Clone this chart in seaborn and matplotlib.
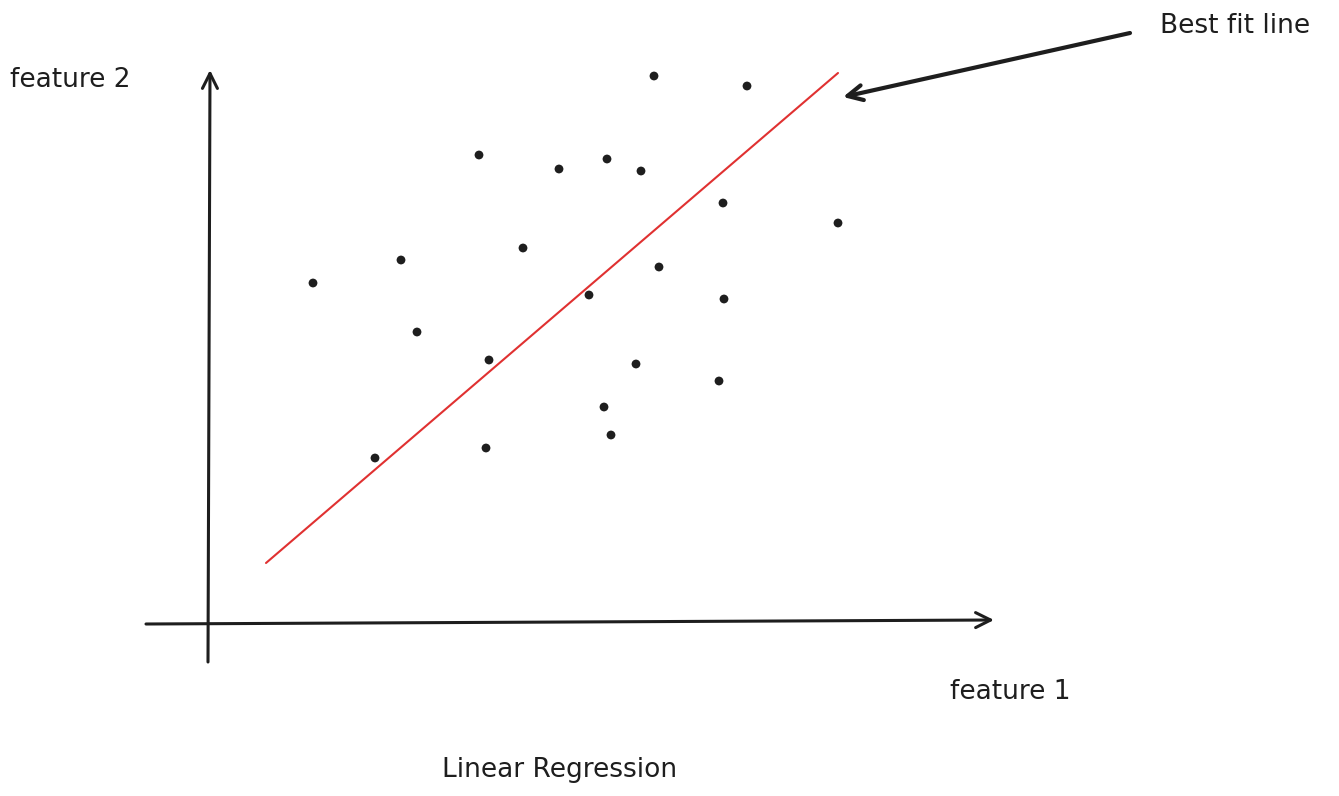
import matplotlib
matplotlib.use("Agg")
import matplotlib.pyplot as plt
import seaborn as sns
import pandas as pd

# Data (feature 1 / feature 2 in chart units; origin at axis crossing)
feature1 = [105, 193, 209, 271, 315, 281, 167, 278, 351, 399, 433, 446,
            539, 515, 630, 451, 381, 516, 428, 511, 396, 403]
feature2 = [341, 364, 292, 469, 376, 264, 166, 176, 455, 465, 453, 548,
            538, 421, 401, 357, 329, 325, 260, 243, 217, 189]
fit_x = [58, 630]
fit_y = [61, 551]

title = "Linear Regression"
xlabel = "feature 1"
ylabel = "feature 2"
note = "Best fit line"

sns.set_theme(style="white")
plt.rcParams['font.family'] = ['DejaVu Sans']

fig = plt.figure(figsize=(13.39, 7.96), dpi=100)
ax = fig.add_axes([0, 0, 1, 1])
# pixel-aligned frame: origin at pixel (208, 624)
ax.set_xlim(-208, 1339 - 208)
ax.set_ylim(624 - 796, 624)
ax.axis("off")

df = pd.DataFrame({"f1": feature1, "f2": feature2})
sns.scatterplot(data=df, x="f1", y="f2", ax=ax, color="#1e1e1e", s=40,
                edgecolor="none", zorder=3)
sns.lineplot(x=fit_x, y=fit_y, ax=ax, color="#e03131", linewidth=1.5,
             zorder=2)

axis_kw = dict(arrowstyle="->,head_length=0.9,head_width=0.45",
               color="#1e1e1e", lw=2.2, shrinkA=0, shrinkB=0)
# x axis
ax.annotate("", xy=(786, 4), xytext=(-62, 0), arrowprops=axis_kw)
# y axis
ax.annotate("", xy=(2, 554), xytext=(0, -38), arrowprops=axis_kw)
# annotation arrow
ax.annotate("", xy=(635, 527), xytext=(922, 591),
            arrowprops=dict(arrowstyle="->,head_length=0.9,head_width=0.45",
                            color="#1e1e1e", lw=3, shrinkA=0, shrinkB=0))

tkw = dict(fontsize=19, color="#1e1e1e")
ax.text(-198, 544, ylabel, ha="left", va="center", **tkw)
ax.text(952, 598, note, ha="left", va="center", **tkw)
ax.text(742, -68, xlabel, ha="left", va="center", **tkw)
ax.text(234, -146, title, ha="left", va="center", **tkw)

fig.savefig("out.png", dpi=100)
